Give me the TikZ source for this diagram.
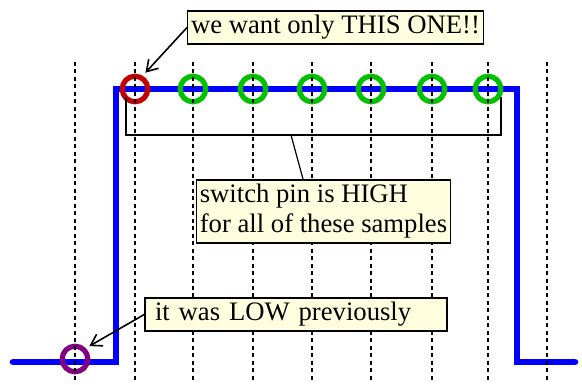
\documentclass[tikz,border=0pt]{standalone}
\usepackage{fontspec}
\setmainfont{Liberation Serif}
\usepackage{xcolor}
\usepackage{tikz}
\usetikzlibrary{arrows.meta, calc}
\definecolor{noteFill}{HTML}{FFFFE0}
\definecolor{sigBlue}{HTML}{0000FF}
\definecolor{firstRed}{HTML}{C00000}
\definecolor{sampleGreen}{HTML}{00C000}
\definecolor{prevPurple}{HTML}{800080}
\def\highLevel{89}
\def\lowLevel{362}
\def\ringSize{19.2pt}

\tikzset{
    note/.style={draw, line width=1.1pt, fill=noteFill, font=\fontsize{20}{22.5}\selectfont,
        inner xsep=2.5pt, inner ysep=0pt, minimum height=24.75pt, align=left},
    ring/.style={circle, draw=#1, line width=3.9pt, minimum size=\ringSize, inner sep=0pt},
    sampleLine/.style={line width=1.3pt, dash pattern=on 3pt off 2.6pt},
    signal/.style={draw=sigBlue, line width=5pt, line cap=round},
    noteArrow/.style={line width=1.2pt, -{Straight Barb[length=8pt, width=10pt]}}
}

\begin{document}
\begin{tikzpicture}[x=0.75pt, y=-0.75pt]
            \useasboundingbox (0,0) rectangle (582,385);

            % Draw signal
            \draw[signal] (13,\lowLevel) -- (116,\lowLevel) -- (116,\highLevel)
                -- (517,\highLevel) -- (517,\lowLevel) -- (575,\lowLevel);

            % Draw sample rings
            \node[ring=prevPurple] (prev) at (75,359) {};
            \node[ring=firstRed] (first) at (135,\highLevel) {};
            \foreach \x [count=\i] in {193,253,312,371,432,488} {
                \node[ring=sampleGreen] (s\i) at (\x,\highLevel) {};
            }

            % Draw sample lines
            \foreach \x in {75,135,193,253,312,371,432,488,547} {
                \draw[sampleLine] (\x,62) -- (\x,380);
            }

            % Draw bracket
            \draw[line width=0.9pt] (126,97) |- (501,135) -- (501,97);
            \coordinate (bracket) at (291,135);

            % Draw notes
            \node[note] (want) at (335.5,27.5) {we want only THIS ONE!!};
            \node[note, minimum height=47.25pt] (high) at (323.5,211.5) {switch pin is HIGH\\for all of these samples};
            \node[note, inner xsep=7.5pt, text width=211.5pt] (low) at (296,314.5) {it was LOW previously};

            \draw[noteArrow, shorten >=3pt] (want.west) -- (first.60);
            \draw[noteArrow, shorten >=3pt] (low.west) -- (prev.45);
            \draw[line width=0.9pt] (bracket) -- ($(high.north west)!0.42!(high.north east)$);

        \end{tikzpicture}
\end{document}
